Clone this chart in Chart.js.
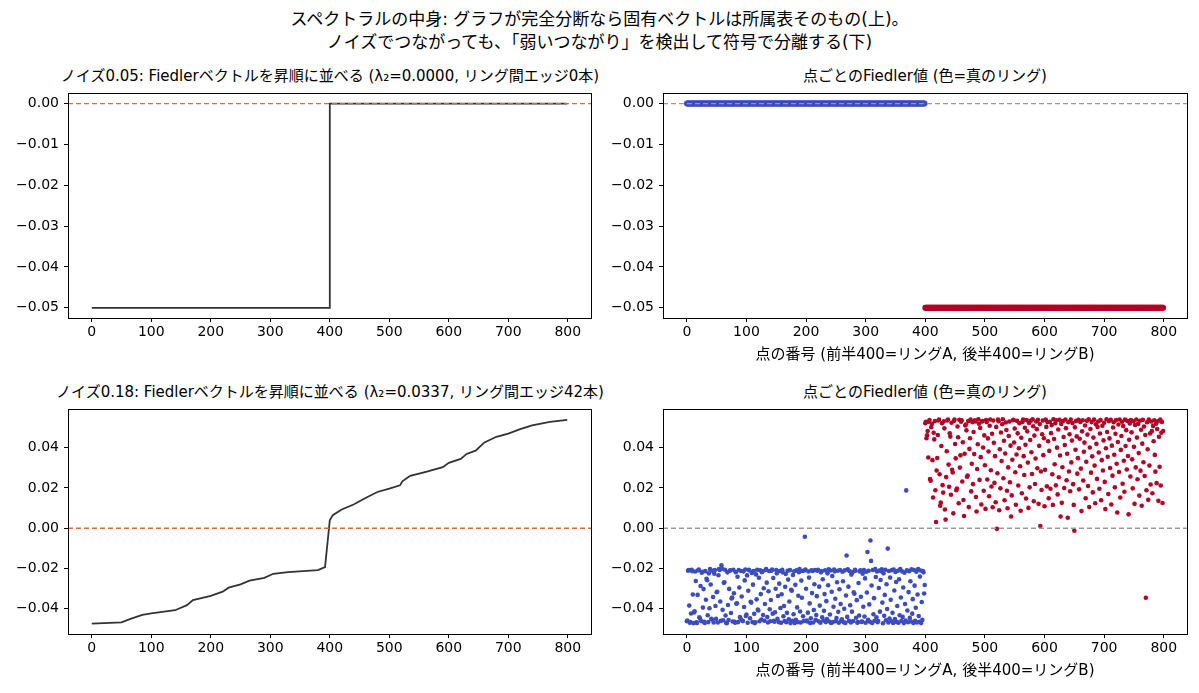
<!DOCTYPE html>
<html>
<head>
<meta charset="utf-8">
<script src="https://cdn.jsdelivr.net/npm/chart.js@4.4.0/dist/chart.umd.min.js"></script>
<style>
  body { margin: 0; background: #fff; font-family: "DejaVu Sans", "Noto Sans CJK JP", sans-serif; }
  #page { position: relative; width: 1199px; height: 693px; overflow: hidden; }
  .box { position: absolute; }
  .suptitle { position: absolute; left: 0; top: 8px; width: 1199px; text-align: center; font-size: 17px; line-height: 23px; color: #000; }
  .title { position: absolute; width: 800px; text-align: center; font-size: 15px; line-height: 18px; white-space: nowrap; color: #000; }
</style>
</head>
<body>
<div id="page">
  <div class="suptitle">スペクトラルの中身: グラフが完全分断なら固有ベクトルは所属表そのもの(上)。<br>ノイズでつながっても、「弱いつながり」を検出して符号で分離する(下)</div>

  <div class="title" style="left:-70px; top:67px;">ノイズ0.05: Fiedlerベクトルを昇順に並べる (λ₂=0.0000, リング間エッジ0本)</div>
  <div class="title" style="left:525px; top:67px;">点ごとのFiedler値 (色=真のリング)</div>
  <div class="title" style="left:-70px; top:383px;">ノイズ0.18: Fiedlerベクトルを昇順に並べる (λ₂=0.0337, リング間エッジ42本)</div>
  <div class="title" style="left:525px; top:383px;">点ごとのFiedler値 (色=真のリング)</div>

  <div class="box" style="left:0; top:80px;"><canvas id="c1" width="600" height="288"></canvas></div>
  <div class="box" style="left:600px; top:80px;"><canvas id="c2" width="599" height="288"></canvas></div>
  <div class="box" style="left:0; top:396px;"><canvas id="c3" width="600" height="288"></canvas></div>
  <div class="box" style="left:600px; top:396px;"><canvas id="c4" width="599" height="288"></canvas></div>
</div>

<script>
// ---- data ----
const pointsPerRing = 400;
const xTicks = [0, 100, 200, 300, 400, 500, 600, 700, 800];
const yTicksTop = [0, -0.01, -0.02, -0.03, -0.04, -0.05];
const yTicksBottom = [-0.04, -0.02, 0, 0.02, 0.04];

// noise 0.05: the graph is split, each ring gets one constant value
const topRingAValue = 0.0;
const topRingBValue = -0.05;

// noise 0.18: sorted Fiedler vector
const sortedIdx = [0, 50, 65, 85, 100, 140, 160, 170, 200, 220, 230, 250, 265, 290, 305, 330, 380, 392,
  400, 405, 420, 440, 460, 480, 500, 518, 522, 535, 560, 590, 600, 620, 630, 645, 660, 680, 700, 720, 740, 770, 799];
const sortedVal = [-0.0473, -0.0467, -0.0450, -0.0430, -0.0423, -0.0407, -0.0382, -0.0357, -0.0336, -0.0315, -0.0295,
  -0.0279, -0.0260, -0.0246, -0.0226, -0.0218, -0.0208, -0.0193,
  0.0040, 0.0065, 0.0093, 0.0118, 0.0150, 0.0180, 0.0197, 0.0213, 0.0233, 0.0260, 0.0279, 0.0303, 0.0325,
  0.0344, 0.0369, 0.0385, 0.0426, 0.0454, 0.0470, 0.0492, 0.0511, 0.0528, 0.0538];

// noise 0.18: Fiedler value per point, ring A (index 0-399)
const ringAFiedler = [
  -0.0462,-0.0458,-0.0211,-0.0207,-0.0384,-0.0469,-0.0466,-0.0423,-0.0206,-0.0213,-0.0329,-0.0471,-0.0418,-0.0412,-0.0215,-0.0262,-0.0467,-0.0470,-0.0331,-0.0209,
  -0.0205,-0.0442,-0.0448,-0.0287,-0.0461,-0.0221,-0.0216,-0.0394,-0.0302,-0.0465,-0.0470,-0.0213,-0.0355,-0.0251,-0.0258,-0.0432,-0.0466,-0.0224,-0.0397,-0.0203,
  -0.0279,-0.0449,-0.0453,-0.0211,-0.0341,-0.0468,-0.0226,-0.0208,-0.0386,-0.0450,-0.0318,-0.0315,-0.0468,-0.0233,-0.0202,-0.0207,-0.0364,-0.0460,-0.0184,-0.0201,
  -0.0405,-0.0457,-0.0271,-0.0268,-0.0206,-0.0433,-0.0470,-0.0472,-0.0219,-0.0381,-0.0456,-0.0301,-0.0211,-0.0209,-0.0421,-0.0349,-0.0344,-0.0463,-0.0206,-0.0323,
  -0.0464,-0.0469,-0.0218,-0.0375,-0.0372,-0.0241,-0.0466,-0.0207,-0.0294,-0.0441,-0.0447,-0.0212,-0.0339,-0.0458,-0.0461,-0.0214,-0.0391,-0.0259,-0.0205,-0.0436,
  -0.0429,-0.0234,-0.0469,-0.0310,-0.0206,-0.0210,-0.0447,-0.0365,-0.0369,-0.0222,-0.0466,-0.0280,-0.0212,-0.0425,-0.0471,-0.0467,-0.0229,-0.0353,-0.0206,-0.0404,
  -0.0408,-0.0246,-0.0462,-0.0209,-0.0327,-0.0453,-0.0218,-0.0214,-0.0431,-0.0298,-0.0459,-0.0376,-0.0207,-0.0203,-0.0270,-0.0441,-0.0468,-0.0313,-0.0212,-0.0402,
  -0.0462,-0.0356,-0.0211,-0.0205,-0.0424,-0.0247,-0.0459,-0.0464,-0.0417,-0.0300,-0.0208,-0.0224,-0.0450,-0.0336,-0.0466,-0.0275,-0.0212,-0.0396,-0.0469,-0.0328,
  -0.0206,-0.0219,-0.0437,-0.0386,-0.0461,-0.0291,-0.0227,-0.0467,-0.0420,-0.0211,-0.0255,-0.0452,-0.0364,-0.0208,-0.0471,-0.0305,-0.0310,-0.0459,-0.0232,-0.0427,
  -0.0214,-0.0470,-0.0281,-0.0455,-0.0209,-0.0393,-0.0466,-0.0335,-0.0218,-0.0203,-0.0413,-0.0468,-0.0260,-0.0345,-0.0212,-0.0437,-0.0461,-0.0210,-0.0042,-0.0205,
  -0.0300,-0.0458,-0.0463,-0.0419,-0.0215,-0.0245,-0.0373,-0.0470,-0.0447,-0.0209,-0.0322,-0.0212,-0.0468,-0.0406,-0.0278,-0.0207,-0.0455,-0.0431,-0.0337,-0.0211,
  -0.0206,-0.0462,-0.0290,-0.0384,-0.0469,-0.0219,-0.0213,-0.0442,-0.0253,-0.0458,-0.0410,-0.0327,-0.0209,-0.0466,-0.0362,-0.0451,-0.0224,-0.0283,-0.0204,-0.0463,
  -0.0428,-0.0210,-0.0470,-0.0315,-0.0237,-0.0466,-0.0390,-0.0205,-0.0214,-0.0350,-0.0461,-0.0446,-0.0268,-0.0211,-0.0415,-0.0469,-0.0303,-0.0207,-0.0376,-0.0459,
  -0.0452,-0.0216,-0.0263,-0.0467,-0.0400,-0.0209,-0.0470,-0.0334,-0.0135,-0.0440,-0.0204,-0.0290,-0.0459,-0.0213,-0.0382,-0.0468,-0.0230,-0.0414,-0.0219,-0.0461,
  -0.0318,-0.0325,-0.0206,-0.0211,-0.0444,-0.0357,-0.0469,-0.0466,-0.0272,-0.0433,-0.0215,-0.0209,-0.0340,-0.0465,-0.0463,-0.0226,-0.0390,-0.0208,-0.0438,-0.0249,
  -0.0469,-0.0216,-0.0319,-0.0118,-0.0455,-0.0211,-0.0378,-0.0464,-0.0061,-0.0162,-0.0284,-0.0470,-0.0207,-0.0427,-0.0347,-0.0459,-0.0203,-0.0242,-0.0442,-0.0215,
  -0.0467,-0.0461,-0.0297,-0.0210,-0.0414,-0.0257,-0.0213,-0.0204,-0.0369,-0.0472,-0.0224,-0.0435,-0.0331,-0.0206,-0.0457,-0.0278,-0.0401,-0.0101,-0.0468,-0.0212,
  -0.0448,-0.0245,-0.0355,-0.0462,-0.0208,-0.0420,-0.0470,-0.0205,-0.0309,-0.0451,-0.0217,-0.0267,-0.0465,-0.0386,-0.0211,-0.0469,-0.0253,-0.0432,-0.0202,-0.0344,
  -0.0460,-0.0214,-0.0440,-0.0294,-0.0471,-0.0221,-0.0376,-0.0458,0.0188,-0.0209,-0.0408,-0.0467,-0.0317,-0.0213,-0.0445,-0.0263,-0.0463,-0.0204,-0.0424,-0.0352,
  -0.0470,-0.0207,-0.0285,-0.0459,-0.0395,-0.0216,-0.0468,-0.0329,-0.0203,-0.0436,-0.0464,-0.0240,-0.0210,-0.0471,-0.0366,-0.0455,-0.0212,-0.0219,-0.0324,-0.0282
];
// ring B (index 400-799)
const ringBFiedler = [
  0.0521,0.0528,0.0447,0.0462,0.0483,0.0351,0.0529,0.0537,0.0244,0.0236,0.0502,0.0518,0.0338,0.0153,0.0474,0.0441,0.0532,0.0189,0.0031,0.0287,
  0.0349,0.0463,0.0535,0.0539,0.0268,0.0112,0.0127,0.0408,0.0521,0.0214,0.0177,0.0531,0.0496,0.0093,0.0043,0.0254,0.0382,0.0535,0.0540,0.0316,
  0.0206,0.0471,0.0455,0.0166,0.0524,0.0290,0.0277,0.0074,0.0533,0.0539,0.0418,0.0347,0.0189,0.0197,0.0505,0.0452,0.0124,0.0538,0.0301,0.0362,
  0.0529,0.0536,0.0232,0.0427,0.0140,0.0061,0.0370,0.0510,0.0515,0.0486,0.0256,0.0262,0.0532,0.0105,0.0394,0.0447,0.0539,0.0183,0.0320,0.0527,
  0.0219,0.0478,0.0368,0.0536,0.0530,0.0155,0.0083,0.0294,0.0417,0.0541,0.0519,0.0240,0.0498,0.0353,0.0118,0.0530,0.0532,0.0401,0.0186,0.0461,
  0.0313,0.0096,0.0537,0.0527,0.0242,0.0446,0.0381,0.0159,0.0509,0.0540,0.0288,0.0207,0.0469,0.0104,0.0535,0.0424,0.0225,0.0358,0.0129,0.0503,
  -0.0003,0.0273,0.0539,0.0531,0.0089,0.0392,0.0198,0.0475,0.0334,0.0516,0.0541,0.0248,0.0434,0.0139,0.0371,0.0525,0.0488,0.0186,0.0099,0.0302,
  0.0458,0.0530,0.0228,0.0410,0.0058,0.0163,0.0340,0.0536,0.0538,0.0426,0.0495,0.0278,0.0117,0.0366,0.0533,0.0471,0.0212,0.0397,0.0521,0.0308,
  0.0087,0.0449,0.0174,0.0528,0.0539,0.0358,0.0264,0.0499,0.0414,0.0148,0.0537,0.0481,0.0326,0.0101,0.0523,0.0203,0.0438,0.0534,0.0377,0.0269,
  0.0541,0.0506,0.0134,0.0460,0.0220,0.0346,0.0530,0.0492,0.0298,0.0538,0.0121,0.0409,0.0517,0.0011,0.0282,0.0190,0.0467,0.0535,0.0363,0.0447,
  0.0109,0.0290,0.0539,0.0503,0.0208,0.0527,0.0432,0.0149,0.0384,0.0529,0.0196,0.0472,0.0512,0.0268,0.0116,0.0541,0.0443,0.0318,0.0521,0.0213,
  0.0536,0.0400,0.0168,0.0490,0.0253,0.0538,0.0361,0.0058,0.0518,0.0126,0.0303,0.0532,0.0453,0.0200,0.0413,0.0540,0.0497,0.0238,0.0370,0.0052,
  0.0526,0.0282,0.0467,0.0184,0.0539,0.0327,0.0435,0.0522,0.0219,0.0116,-0.0012,0.0501,0.0390,0.0533,0.0456,0.0271,0.0348,0.0538,0.0193,0.0444,
  0.0528,0.0296,0.0085,0.0481,0.0536,0.0237,0.0380,0.0425,0.0510,0.0149,0.0330,0.0534,0.0465,0.0210,0.0541,0.0105,0.0401,0.0493,0.0276,0.0527,
  0.0357,0.0178,0.0450,0.0539,0.0311,0.0124,0.0516,0.0419,0.0245,0.0503,0.0530,0.0376,0.0196,0.0470,0.0537,0.0139,0.0338,0.0509,0.0287,0.0436,
  0.0524,0.0230,0.0095,0.0397,0.0541,0.0478,0.0355,0.0170,0.0532,0.0446,0.0299,0.0538,0.0118,0.0410,0.0261,0.0500,0.0526,0.0365,0.0203,0.0469,
  0.0537,0.0320,0.0078,0.0428,0.0515,0.0279,0.0540,0.0153,0.0389,0.0458,0.0529,0.0221,0.0507,0.0335,0.0181,0.0539,0.0408,0.0487,0.0292,0.0533,
  0.0359,0.0069,0.0439,0.0520,0.0257,0.0537,0.0476,0.0342,0.0198,0.0531,0.0404,0.0121,0.0513,0.0302,0.0540,0.0450,0.0243,0.0518,0.0373,0.0162,
  0.0534,0.0286,0.0489,0.0112,0.0420,0.0538,0.0328,0.0505,0.0259,0.0463,-0.0345,0.0189,0.0526,0.0392,0.0141,0.0539,0.0311,0.0470,0.0217,0.0530,
  0.0482,0.0174,0.0508,0.0432,0.0536,0.0364,0.0281,0.0519,0.0224,0.0493,0.0531,0.0136,0.0454,0.0305,0.0540,0.0212,0.0474,0.0528,0.0125,0.0483
];

// ---- styles ----
const FONT = '"DejaVu Sans", "Noto Sans CJK JP", sans-serif';
const BLUE = '#3b4cc0';
const RED = '#b40426';
const X_MIN = -40, X_MAX = 839;
const xLabel = '点の番号 (前半400=リングA, 後半400=リングB)';

const framePlugin = {
  id: 'frame',
  afterDatasetsDraw(chart) {
    const a = chart.chartArea;
    const ctx = chart.ctx;
    ctx.save();
    ctx.strokeStyle = '#000';
    ctx.lineWidth = 1;
    ctx.strokeRect(Math.round(a.left) + 0.5, Math.round(a.top) + 0.5,
      Math.round(a.right - a.left), Math.round(a.bottom - a.top));
    ctx.restore();
  }
};

function fmt(v) {
  const s = Math.abs(v) < 1e-9 ? '0.00' : v.toFixed(2);
  return s.replace('-', '\u2212');
}

function zeroLine(color) {
  return {
    type: 'line',
    data: [{ x: X_MIN, y: 0 }, { x: X_MAX, y: 0 }],
    borderColor: color,
    borderWidth: 1.3,
    borderDash: [5, 3],
    pointRadius: 0,
    showLine: true,
    order: 0
  };
}

function makeChart(id, datasets, yMin, yMax, yTicks, withXTitle, yAxisW, padRight) {
  return new Chart(document.getElementById(id), {
    type: 'scatter',
    data: { datasets: datasets },
    options: {
      responsive: false,
      animation: false,
      layout: { padding: { top: 9, right: padRight, bottom: 0, left: 0 } },
      plugins: { legend: { display: false }, tooltip: { enabled: false } },
      scales: {
        x: {
          type: 'linear', min: X_MIN, max: X_MAX,
          afterBuildTicks: s => { s.ticks = xTicks.map(v => ({ value: v })); },
          afterFit: s => { s.height = 50; },
          grid: { drawOnChartArea: false, drawTicks: true, tickLength: 4, color: '#000' },
          border: { display: false },
          ticks: { color: '#000', padding: 2, maxRotation: 0, font: { family: FONT, size: 14 },
                   callback: v => String(v) },
          title: { display: withXTitle, text: xLabel, color: '#000',
                   font: { family: FONT, size: 15 }, padding: { top: 2, bottom: 4 } }
        },
        y: {
          type: 'linear', min: yMin, max: yMax,
          afterBuildTicks: s => { s.ticks = yTicks.map(v => ({ value: v })); },
          afterFit: s => { s.width = yAxisW; },
          grid: { drawOnChartArea: false, drawTicks: true, tickLength: 4, color: '#000' },
          border: { display: false },
          ticks: { color: '#000', padding: 5, font: { family: FONT, size: 14 }, callback: v => fmt(v) }
        }
      }
    },
    plugins: [framePlugin]
  });
}

// top panels, noise 0.05
const topA = [], topB = [];
for (let i = 0; i < pointsPerRing; i++) {
  topA.push({ x: i, y: topRingAValue });
  topB.push({ x: pointsPerRing + i, y: topRingBValue });
}
// sorted ascending: ring B values first, then ring A values
const topSorted = [
  { x: 0, y: topRingBValue }, { x: pointsPerRing - 1, y: topRingBValue },
  { x: pointsPerRing, y: topRingAValue }, { x: 2 * pointsPerRing - 1, y: topRingAValue }
];

makeChart('c1', [
  { type: 'line', data: topSorted, borderColor: '#333', borderWidth: 1.8, pointRadius: 0, showLine: true, order: 1 },
  zeroLine('#e0683f')
], -0.0525, 0.0025, yTicksTop, false, 68, 9);

makeChart('c2', [
  { data: topA, backgroundColor: 'rgba(59,76,192,0.8)', borderWidth: 0, pointRadius: 3, order: 1 },
  { data: topB, backgroundColor: RED, borderWidth: 0, pointRadius: 3, order: 1 },
  zeroLine('#999')
], -0.0525, 0.0025, yTicksTop, true, 63, 12);

// bottom panels, noise 0.18
const sortedPts = sortedIdx.map((x, i) => ({ x: x, y: sortedVal[i] }));
const botA = ringAFiedler.map((v, i) => ({ x: i, y: v }));
const botB = ringBFiedler.map((v, i) => ({ x: pointsPerRing + i, y: v }));

makeChart('c3', [
  { type: 'line', data: sortedPts, borderColor: '#333', borderWidth: 1.8, pointRadius: 0, showLine: true, tension: 0, order: 1 },
  zeroLine('#e0683f')
], -0.0525, 0.0590, yTicksBottom, false, 68, 9);

makeChart('c4', [
  { data: botA, backgroundColor: BLUE, borderWidth: 0, pointRadius: 2.3, order: 1 },
  { data: botB, backgroundColor: RED, borderWidth: 0, pointRadius: 2.3, order: 1 },
  zeroLine('#999')
], -0.0525, 0.0590, yTicksBottom, true, 63, 12);
</script>
</body>
</html>
